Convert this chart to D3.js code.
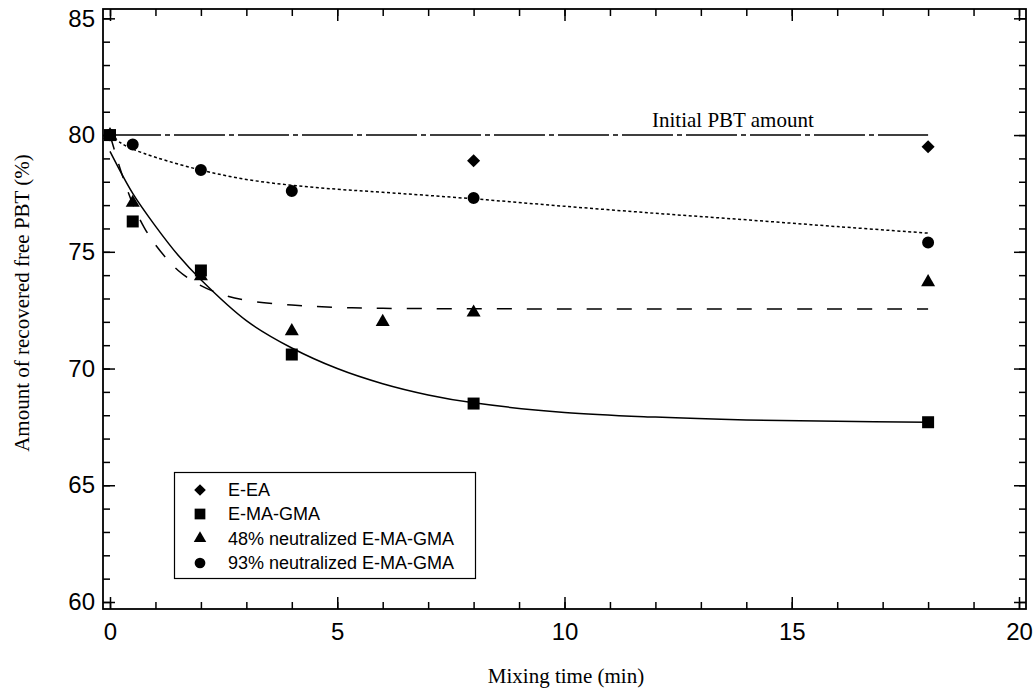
<!DOCTYPE html>
<html>
<head>
<meta charset="utf-8">
<script src="https://cdn.jsdelivr.net/npm/d3@7"></script>
<style>
  body { margin: 0; background: #fff; }
  .tick text { font-family: "Liberation Sans", Arial, sans-serif; font-size: 24px; fill: #000; }
  .tick line { stroke: #000; stroke-width: 1.5; }
  .serif { font-family: "Liberation Serif", "Times New Roman", serif; font-size: 21px; fill: #000; }
  .legend text { font-family: "Liberation Sans", Arial, sans-serif; font-size: 18px; fill: #000; }
</style>
</head>
<body>
<div id="chart"></div>
<script>
// measured points
var timeEEA = [0, 8, 18];
var valEEA = [80, 78.9, 79.5];

var timeEMA = [0, 0.5, 2, 4, 8, 18];
var valEMA = [80, 76.3, 74.2, 70.6, 68.5, 67.7];

var time48 = [0, 0.5, 2, 4, 6, 8, 18];
var val48 = [80, 77.1, 73.95, 71.6, 72.0, 72.4, 73.7];

var time93 = [0, 0.5, 2, 4, 8, 18];
var val93 = [80, 79.6, 78.5, 77.6, 77.3, 75.4];

// fitted curves
var solidT = [0, 0.5, 1, 1.5, 2, 3, 4, 5, 6, 7, 8, 10, 12, 14, 16, 18];
var solidV = [79.3, 77.5, 76.1, 74.85, 73.8, 72.05, 70.88, 70.0, 69.35, 68.87, 68.53, 68.12, 67.92, 67.8, 67.74, 67.7];

var dashT = [0, 0.25, 0.5, 0.75, 1, 1.5, 2, 2.5, 3, 4, 5, 6, 8, 12, 18];
var dashV = [80, 78.4, 77.05, 76.05, 75.3, 74.2, 73.55, 73.15, 72.92, 72.72, 72.62, 72.58, 72.56, 72.55, 72.55];

var dotT = [0, 0.25, 0.5, 1, 2, 3, 4, 5, 6, 8, 10, 12, 14, 16, 18];
var dotV = [80, 79.65, 79.4, 79.05, 78.5, 78.1, 77.85, 77.68, 77.55, 77.27, 76.95, 76.65, 76.37, 76.08, 75.8];

var initT = [0, 18];
var initV = [80, 80];

var legendLabels = ["E-EA", "E-MA-GMA", "48% neutralized E-MA-GMA", "93% neutralized E-MA-GMA"];
var xMajor = [0, 5, 10, 15, 20];
var yMajor = [60, 65, 70, 75, 80, 85];

var svgWidth = 1034, svgHeight = 691;
var plotL = 103, plotR = 1026, plotT = 9, plotB = 609;

var x = d3.scaleLinear().domain([-0.154, 20.154]).range([plotL, plotR]);
var y = d3.scaleLinear().domain([59.7, 85.4]).range([plotB, plotT]);

var svg = d3.select("#chart").append("svg")
    .attr("width", svgWidth)
    .attr("height", svgHeight);

function zip(ts, vs) {
  return ts.map(function(t, i) { return {t: t, v: vs[i]}; });
}

var xMinor = d3.range(0, 21, 1), yMinor = d3.range(60, 86, 1);

function axis(gen, pos, vals, size, labels, pad) {
  var g = svg.append("g")
      .attr("transform", pos)
      .call(gen.tickValues(vals).tickSizeInner(-size).tickSizeOuter(0)
        .tickPadding(pad || 3)
        .tickFormat(labels ? d3.format("d") : ""));
  g.select(".domain").remove();
  return g;
}

axis(d3.axisBottom(x), "translate(0," + plotB + ")", xMinor, 7, false);
axis(d3.axisBottom(x), "translate(0," + plotB + ")", xMajor, 12, true, 14);
axis(d3.axisTop(x), "translate(0," + plotT + ")", xMinor, 7, false);
axis(d3.axisTop(x), "translate(0," + plotT + ")", xMajor, 12, false);
axis(d3.axisLeft(y), "translate(" + plotL + ",0)", yMinor, 7, false);
axis(d3.axisLeft(y), "translate(" + plotL + ",0)", yMajor, 12, true, 8);
axis(d3.axisRight(y), "translate(" + plotR + ",0)", yMinor, 7, false);
axis(d3.axisRight(y), "translate(" + plotR + ",0)", yMajor, 12, false);

svg.append("rect")
    .attr("x", plotL)
    .attr("y", plotT)
    .attr("width", plotR - plotL)
    .attr("height", plotB - plotT)
    .attr("fill", "none")
    .attr("stroke", "#000")
    .attr("stroke-width", 1.8);

var line = d3.line()
    .x(function(d) { return x(d.t); })
    .y(function(d) { return y(d.v); })
    .curve(d3.curveCatmullRom.alpha(0.5));

function curve(ts, vs, dash) {
  svg.append("path")
      .datum(zip(ts, vs))
      .attr("fill", "none")
      .attr("stroke", "#000")
      .attr("stroke-width", 1.5)
      .attr("stroke-dasharray", dash)
      .attr("d", line);
}

curve(initT, initV, "51,4,5,4");
curve(dotT, dotV, "3,2.5");
curve(dashT, dashV, "15,15");
curve(solidT, solidV, null);

svg.append("text")
    .attr("class", "serif")
    .attr("x", 652)
    .attr("y", 127)
    .text("Initial PBT amount");

var shapes = [
  {type: d3.symbolSquare, size: 85, rot: 45},
  {type: d3.symbolSquare, size: 144, rot: 0},
  {type: d3.symbolTriangle, size: 85, rot: 0},
  {type: d3.symbolCircle, size: 113, rot: 0}
];

function markers(ts, vs, s) {
  svg.append("g").selectAll("path")
      .data(zip(ts, vs))
    .enter().append("path")
      .attr("transform", function(d) {
        return "translate(" + x(d.t) + "," + y(d.v) + ") rotate(" + s.rot + ")";
      })
      .attr("d", d3.symbol().type(s.type).size(s.size))
      .attr("fill", "#000");
}

markers(timeEEA, valEEA, shapes[0]);
markers(time93, val93, shapes[3]);
markers(time48, val48, shapes[2]);
markers(timeEMA, valEMA, shapes[1]);

// legend
var legend = svg.append("g").attr("class", "legend");
legend.append("rect")
    .attr("x", 174.5)
    .attr("y", 472.5)
    .attr("width", 301)
    .attr("height", 106)
    .attr("fill", "#fff")
    .attr("stroke", "#000")
    .attr("stroke-width", 1.2);

var rowY = [490, 514, 538.5, 563];
legendLabels.forEach(function(lbl, i) {
  var s = shapes[i];
  legend.append("path")
      .attr("transform", "translate(200," + rowY[i] + ") rotate(" + s.rot + ")")
      .attr("d", d3.symbol().type(s.type).size(s.size * 0.8))
      .attr("fill", "#000");
  legend.append("text")
      .attr("x", 228)
      .attr("y", rowY[i])
      .attr("dy", "0.36em")
      .text(lbl);
});

svg.append("text")
    .attr("class", "serif")
    .attr("x", 566)
    .attr("y", 683)
    .attr("text-anchor", "middle")
    .text("Mixing time (min)");

svg.append("text")
    .attr("class", "serif")
    .attr("transform", "translate(29,303) rotate(-90)")
    .attr("text-anchor", "middle")
    .text("Amount of recovered free PBT (%)");
</script>
</body>
</html>
